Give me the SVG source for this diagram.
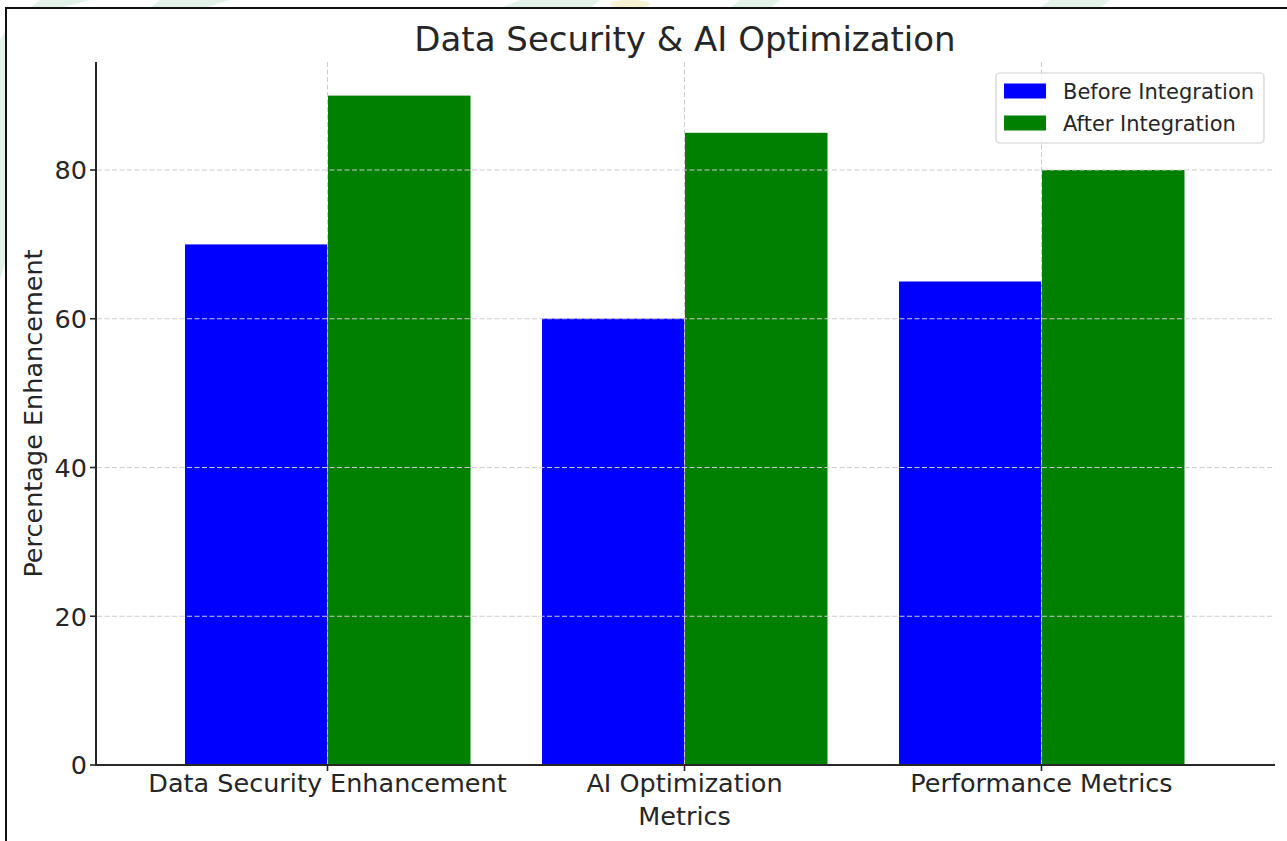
<svg xmlns="http://www.w3.org/2000/svg" width="1287" height="841" viewBox="0 0 1287 841">
  <style>
    .txt { font-family: "DejaVu Sans", "Liberation Sans", sans-serif; fill: #262626; }
    .tick { font-size: 25.5px; text-anchor: end; }
    .xlab { font-size: 25.5px; text-anchor: middle; }
    .grid { stroke: #cccccc; stroke-width: 1; stroke-dasharray: 5 2.5; fill: none; }
    .spine { stroke: #262626; stroke-width: 2; fill: none; }
    .before { fill: #0000ff; }
    .after { fill: #008000; }
  </style>

  <!-- page background and faint page decoration -->
  <rect x="0" y="0" width="1287" height="841" fill="#ffffff"/>
  <g id="page-decoration" fill="#dcefe4" opacity="0.8">
    <path d="M40 0 L90 0 L60 8 L30 8 Z"/>
    <path d="M160 0 L230 0 L205 8 L150 8 Z"/>
    <path d="M520 0 L600 0 L590 8 L500 8 Z"/>
    <path d="M740 0 L780 0 L770 8 L730 8 Z"/>
    <path d="M1050 0 L1110 0 L1100 8 L1040 8 Z"/>
    <path d="M0 40 L6 30 L6 260 L0 280 Z"/>
    <ellipse cx="630" cy="4" rx="20" ry="4" fill="#f6f0c8"/>
  </g>

  <!-- page frame -->
  <path d="M6 841 L6 8 L1287 8" fill="none" stroke="#111111" stroke-width="2"/>

  <!-- title -->
  <text class="txt" x="685" y="51" font-size="34" text-anchor="middle" fill="#333333">Data Security &amp; AI Optimization</text>

  <!-- bars -->
  <g id="series-before">
    <rect class="before" x="185" y="244.4" width="142.5" height="520.6"/>
    <rect class="before" x="542" y="318.6" width="142.5" height="446.4"/>
    <rect class="before" x="899" y="281.5" width="142.5" height="483.5"/>
  </g>
  <g id="series-after">
    <rect class="after" x="328" y="95.6" width="142.5" height="669.4"/>
    <rect class="after" x="685" y="132.8" width="142.5" height="632.2"/>
    <rect class="after" x="1042" y="170" width="142.5" height="595"/>
  </g>

  <!-- grid lines (drawn over the bars) -->
  <g id="grid">
    <line class="grid" x1="97" y1="616.25" x2="1275" y2="616.25"/>
    <line class="grid" x1="97" y1="467.5" x2="1275" y2="467.5"/>
    <line class="grid" x1="97" y1="318.75" x2="1275" y2="318.75"/>
    <line class="grid" x1="97" y1="170" x2="1275" y2="170"/>
    <line class="grid" x1="327.5" y1="62" x2="327.5" y2="764"/>
    <line class="grid" x1="684.5" y1="62" x2="684.5" y2="764"/>
    <line class="grid" x1="1041.5" y1="62" x2="1041.5" y2="764"/>
  </g>

  <!-- axes -->
  <g id="axes">
    <path class="spine" d="M96 62 L96 765 L1275 765"/>
    <g stroke="#262626" stroke-width="1.6">
      <line x1="90" y1="765" x2="96" y2="765"/>
      <line x1="90" y1="616.25" x2="96" y2="616.25"/>
      <line x1="90" y1="467.5" x2="96" y2="467.5"/>
      <line x1="90" y1="318.75" x2="96" y2="318.75"/>
      <line x1="90" y1="170" x2="96" y2="170"/>
      <line x1="327.5" y1="765" x2="327.5" y2="771"/>
      <line x1="684.5" y1="765" x2="684.5" y2="771"/>
      <line x1="1041.5" y1="765" x2="1041.5" y2="771"/>
    </g>
    <text class="txt tick" x="87" y="774">0</text>
    <text class="txt tick" x="87" y="625.5">20</text>
    <text class="txt tick" x="87" y="476.5">40</text>
    <text class="txt tick" x="87" y="328">60</text>
    <text class="txt tick" x="87" y="179">80</text>
    <text class="txt xlab" x="327.5" y="792">Data Security Enhancement</text>
    <text class="txt xlab" x="684.5" y="792">AI Optimization</text>
    <text class="txt xlab" x="684.5" y="825">Metrics</text>
    <text class="txt xlab" x="1041.5" y="792">Performance Metrics</text>
    <text class="txt" x="0" y="0" font-size="25.5" text-anchor="middle" transform="translate(42 413.5) rotate(-90)">Percentage Enhancement</text>
  </g>

  <!-- legend -->
  <g id="legend">
    <rect x="996" y="73" width="268" height="70" rx="4" fill="#ffffff" fill-opacity="0.8" stroke="#d0d0d0" stroke-width="1.2"/>
    <rect class="before" x="1004" y="83.5" width="42" height="15"/>
    <rect class="after" x="1004" y="115.5" width="42" height="15"/>
    <text class="txt" x="1063" y="99" font-size="21" fill="#333333">Before Integration</text>
    <text class="txt" x="1063" y="131" font-size="21" fill="#333333">After Integration</text>
  </g>
</svg>
